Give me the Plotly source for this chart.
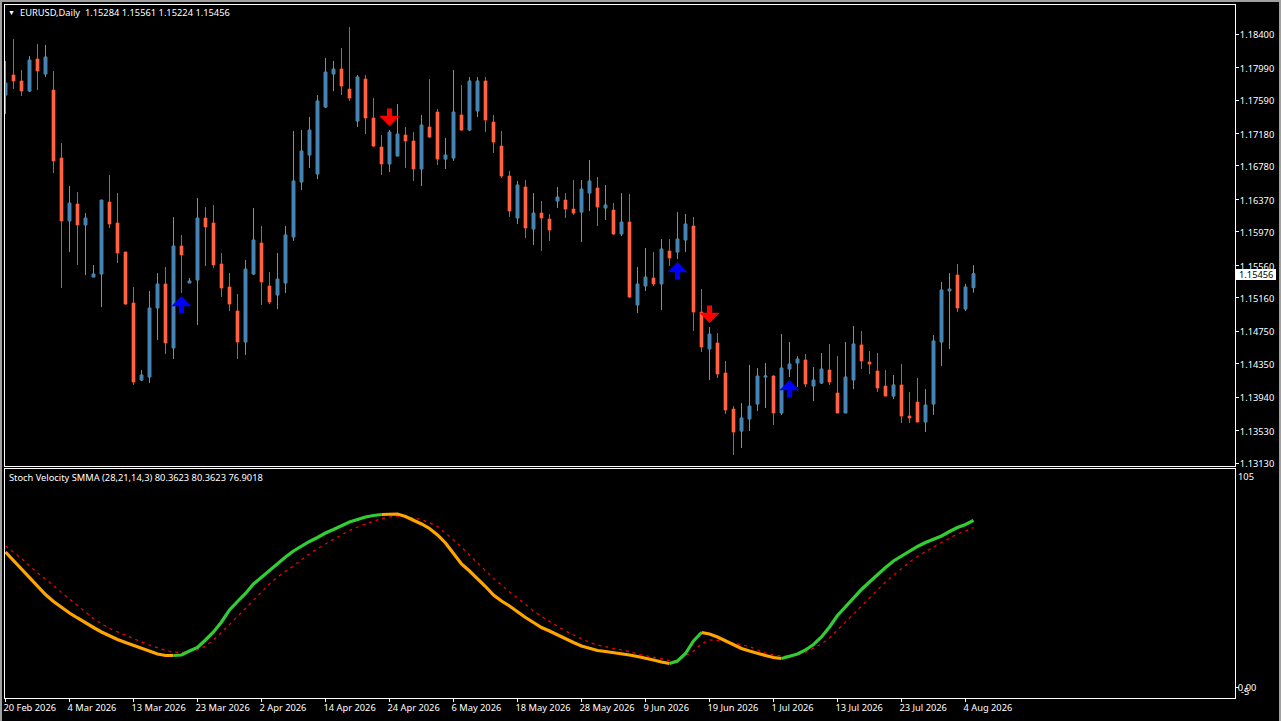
import pandas as pd
import plotly.graph_objects as go

W, H = 1281, 721
FONT = "Noto Sans"
FS = 9.3

dates = [d.strftime("%Y-%m-%d") for d in pd.bdate_range("2026-02-20", periods=122)]

opens = [1.17651,1.17897,1.17823,1.17700,1.18093,1.17909,1.17712,1.16877,1.16104,1.16312,
1.16055,1.15415,1.15452,1.16336,1.16079,1.15722,1.15096,1.14150,1.14187,1.15035,
1.15330,1.14544,1.15796,1.15342,1.15379,1.16140,1.16079,1.15575,1.15293,1.14998,
1.14617,1.15452,1.15833,1.15305,1.15195,1.15342,1.15907,1.16582,1.16914,1.16681,
1.17504,1.17909,1.17970,1.17724,1.17332,1.17847,1.17369,1.17012,1.16804,1.16901,
1.17160,1.17086,1.16742,1.17258,1.17442,1.16864,1.16877,1.17406,1.17221,1.17455,
1.17823,1.17319,1.17024,1.16656,1.16140,1.16521,1.16005,1.16201,1.16127,1.16349,
1.16361,1.16250,1.16213,1.16447,1.16509,1.16263,1.16238,1.15944,1.16091,1.15072,
1.15305,1.15403,1.15330,1.15735,1.15722,1.15870,1.16042,1.14985,1.14531,1.14605,
1.14236,1.13793,1.13524,1.13671,1.13855,1.14187,1.14199,1.13745,1.14285,1.14359,
1.14396,1.14076,1.14113,1.14273,1.13990,1.13745,1.14150,1.14581,1.14371,1.14261,
1.14076,1.13953,1.14089,1.13708,1.13879,1.13634,1.13855,1.14617,1.15244,1.15440,
1.15022,1.15284]

highs = [1.18069,1.18338,1.17958,1.18130,1.18278,1.18266,1.17946,1.17061,1.16533,1.16459,
1.16201,1.15563,1.16361,1.16669,1.16447,1.15722,1.15293,1.14273,1.15244,1.15464,
1.15538,1.16152,1.15932,1.15403,1.16386,1.16275,1.16300,1.15710,1.15464,1.15207,
1.15624,1.16263,1.16042,1.15476,1.15710,1.16042,1.17209,1.17221,1.17381,1.17651,
1.18106,1.18069,1.18229,1.18486,1.17897,1.17897,1.17614,1.17160,1.17221,1.17541,
1.17258,1.17196,1.17406,1.17847,1.17479,1.17123,1.17958,1.17774,1.17872,1.17872,
1.17872,1.17406,1.17209,1.16718,1.16595,1.16607,1.16447,1.16349,1.16189,1.16521,
1.16447,1.16607,1.16607,1.16853,1.16644,1.16546,1.16324,1.16447,1.16435,1.15538,
1.15772,1.15722,1.15882,1.15882,1.16213,1.16189,1.16152,1.15268,1.14801,1.14727,
1.14384,1.13830,1.13867,1.14335,1.14298,1.14359,1.14212,1.14715,1.14617,1.14445,
1.14470,1.14310,1.14482,1.14593,1.14445,1.14617,1.14813,1.14752,1.14507,1.14482,
1.14273,1.14212,1.14347,1.14002,1.14175,1.14039,1.14703,1.15354,1.15464,1.15575,
1.15330,1.15561]

lows = [1.17418,1.17724,1.17638,1.17687,1.17712,1.17872,1.16693,1.15281,1.15722,1.15563,
1.15440,1.15415,1.15047,1.16018,1.15587,1.15072,1.14089,1.14138,1.14113,1.14642,
1.14470,1.14408,1.15219,1.15342,1.14826,1.15550,1.15526,1.15170,1.14998,1.14408,
1.14458,1.15440,1.15072,1.15084,1.15022,1.15219,1.15858,1.16484,1.16755,1.16619,
1.17492,1.17700,1.17651,1.17578,1.17258,1.17172,1.17012,1.16669,1.16705,1.16901,
1.16755,1.16595,1.16533,1.17123,1.16792,1.16742,1.16841,1.17209,1.17209,1.17381,
1.17196,1.16938,1.16632,1.16152,1.16067,1.15895,1.15809,1.15735,1.15858,1.16263,
1.16140,1.16177,1.15845,1.16226,1.16042,1.16116,1.15932,1.15919,1.15158,1.14973,
1.15244,1.15305,1.15010,1.15550,1.15636,1.15722,1.14752,1.14494,1.14150,1.14175,
1.13733,1.13229,1.13315,1.13524,1.13770,1.13806,1.13598,1.13721,1.14187,1.14064,
1.14064,1.13892,1.14101,1.14089,1.13745,1.13745,1.14039,1.14285,1.14224,1.14002,
1.13953,1.13916,1.13622,1.13622,1.13634,1.13511,1.13721,1.14322,1.14531,1.14985,
1.14998,1.15224]

closes = [1.17798,1.17823,1.17700,1.18081,1.17946,1.18118,1.16841,1.16104,1.16324,1.16055,
1.16140,1.15452,1.16361,1.16067,1.15710,1.15084,1.14125,1.14212,1.15035,1.15330,
1.14605,1.15796,1.15686,1.15367,1.16140,1.16030,1.15563,1.15281,1.15084,1.14617,
1.15513,1.15870,1.15354,1.15108,1.15390,1.15932,1.16595,1.16963,1.17221,1.17578,
1.17933,1.17970,1.17761,1.17614,1.17872,1.17369,1.17024,1.16804,1.17196,1.17172,
1.17086,1.16742,1.17283,1.17135,1.16864,1.16914,1.17442,1.17221,1.17823,1.17823,
1.17344,1.17073,1.16656,1.16226,1.16546,1.16018,1.16201,1.16140,1.15993,1.16398,
1.16250,1.16201,1.16496,1.16595,1.16275,1.16300,1.15944,1.16091,1.15170,1.15330,
1.15415,1.15330,1.15759,1.15649,1.15882,1.16067,1.14985,1.14556,1.14715,1.14224,
1.13782,1.13511,1.13684,1.13830,1.14199,1.14199,1.13745,1.14298,1.14347,1.14408,
1.14101,1.14150,1.14285,1.14125,1.13745,1.14187,1.14593,1.14384,1.14347,1.14052,
1.13953,1.14089,1.13708,1.13684,1.13634,1.13843,1.14630,1.15256,1.15268,1.15035,
1.15293,1.15456]

stoch = [65.14,61.05,56.97,52.65,48.56,44.72,41.36,38.48,35.83,33.43,
31.03,28.87,26.71,24.79,23.11,21.66,20.22,18.78,17.34,16.14,
15.42,15.42,15.66,17.58,19.26,22.87,26.71,31.51,37.28,41.36,
45.20,49.77,53.13,56.25,59.37,62.74,65.62,68.02,70.18,72.10,
74.26,75.95,77.87,79.55,80.75,81.95,82.67,83.15,83.39,83.39,
82.19,80.51,78.59,76.43,73.30,69.46,64.42,59.37,56.01,52.41,
48.56,44.48,41.60,39.20,36.32,33.67,31.27,28.87,27.19,25.27,
23.35,21.66,19.98,18.78,17.82,17.34,16.86,16.38,15.66,14.94,
14.22,13.26,12.30,11.58,12.78,16.38,22.39,26.47,25.75,24.31,
22.39,20.46,18.78,17.58,16.38,15.42,14.46,13.98,14.94,16.14,
18.06,20.70,24.31,29.11,34.63,38.96,43.04,47.12,50.73,54.33,
57.69,60.81,63.22,65.62,67.78,69.70,71.14,72.82,74.98,76.91,
78.35,80.36]

signal = [68.02,64.90,62.01,58.41,55.05,52.17,48.80,45.68,42.56,39.20,
36.32,33.19,30.55,28.39,26.71,25.03,23.35,21.90,20.46,19.02,
17.82,17.10,16.86,17.34,18.06,19.98,22.87,26.47,30.55,34.15,
38.00,42.08,45.92,49.77,53.13,55.77,58.41,61.29,64.18,66.82,
68.98,71.14,73.54,75.46,77.15,78.59,80.03,81.23,81.95,82.43,
82.19,81.47,80.75,79.07,77.39,74.26,70.90,67.54,63.70,59.85,
56.25,52.41,49.29,45.92,43.04,39.92,36.80,34.15,31.75,29.35,
27.19,25.27,23.35,21.66,20.46,19.50,18.78,18.06,17.34,16.14,
15.42,14.46,13.74,13.02,13.02,15.18,17.58,20.94,22.87,22.63,
22.14,21.42,20.46,19.74,18.06,16.62,15.66,15.18,15.18,15.90,
16.86,19.02,20.94,23.83,27.67,31.03,34.87,38.72,42.80,46.88,
50.73,54.09,57.21,60.33,62.98,65.38,67.54,69.70,71.86,73.78,
75.23,76.90]

# bar index at which the oscillator line changes colour (orange first)
turns = [0, 21, 47, 83, 87, 97, 121]

price_ticks = [1.18400,1.17990,1.17590,1.17180,1.16780,1.16370,1.15970,1.15560,1.15160,
               1.14750,1.14350,1.13940,1.13530,1.13130]
date_labels = ["20 Feb 2026","4 Mar 2026","13 Mar 2026","23 Mar 2026","2 Apr 2026","14 Apr 2026",
               "24 Apr 2026","6 May 2026","18 May 2026","28 May 2026","9 Jun 2026","19 Jun 2026",
               "1 Jul 2026","13 Jul 2026","23 Jul 2026","4 Aug 2026"]
date_ticks = dates[::8]

up_arrow_bars = [22, 84, 98]
up_arrow_prices = [1.15182, 1.15599, 1.14150]
down_arrow_bars = [48, 88]
down_arrow_prices = [1.17270, 1.14850]

last_price = 1.15456
price_title = "EURUSD,Daily  1.15284 1.15561 1.15224 1.15456"
osc_title = "Stoch Velocity SMMA (28,21,14,3) 80.3623 80.3623 76.9018"

fig = go.Figure()
# wicks and body outlines
fig.add_trace(go.Candlestick(
    x=dates, open=opens, high=highs, low=lows, close=closes,
    xaxis="x", yaxis="y", whiskerwidth=0, hoverinfo="skip", showlegend=False,
    increasing=dict(line=dict(color="#5F9EA0", width=1), fillcolor="#4682B4"),
    decreasing=dict(line=dict(color="#FF4500", width=1), fillcolor="#FF6347"),
))
# body fill drawn again on top so the small bodies keep their fill colour
fig.add_trace(go.Candlestick(
    x=dates, open=opens, high=highs, low=lows, close=closes,
    xaxis="x", yaxis="y", whiskerwidth=0, hoverinfo="skip", showlegend=False,
    increasing=dict(line=dict(color="#4682B4", width=0), fillcolor="#4682B4"),
    decreasing=dict(line=dict(color="#FF6347", width=0), fillcolor="#FF6347"),
))

fig.add_trace(go.Scatter(
    x=dates, y=signal, xaxis="x2", yaxis="y2", mode="lines", showlegend=False, hoverinfo="skip",
    line=dict(color="#FF0000", width=1.2, dash="3px,4px"),
))
for k in range(len(turns) - 1):
    a, b = turns[k], turns[k + 1]
    fig.add_trace(go.Scatter(
        x=dates[a:b + 1], y=stoch[a:b + 1], xaxis="x2", yaxis="y2", mode="lines",
        showlegend=False, hoverinfo="skip",
        line=dict(color="#FFA500" if k % 2 == 0 else "#32CD32", width=3.2),
    ))

notes = []
for bars, prices, color, tail in ((up_arrow_bars, up_arrow_prices, "#0000FF", 19),
                                  (down_arrow_bars, down_arrow_prices, "#FF0000", -19)):
    for b, p in zip(bars, prices):
        notes.append(dict(x=dates[b], y=p, xref="x", yref="y", text="", showarrow=True,
                          arrowhead=1, arrowsize=0.68, arrowwidth=5, arrowcolor=color,
                          ax=0, ay=tail, standoff=0, startstandoff=0))

def label(px, py, text, size=FS, color="#FFFFFF", **kw):
    return dict(x=px / W, y=1 - py / H, xref="paper", yref="paper", text=text, showarrow=False,
                xanchor=kw.pop("xanchor", "left"), yanchor="middle",
                font=dict(family=FONT, size=size, color=color), **kw)

notes.append(label(11, 12.5, "▼", size=7, xanchor="center"))
notes.append(label(18, 13, price_title))
notes.append(label(7, 477, osc_title))
notes.append(label(1236, 476, "105"))
notes.append(label(1239, 691, "-5"))
notes.append(label(1237, 274.5, f"{last_price:.5f}", color="#000000"))

shapes = [
    dict(type="rect", xref="paper", yref="paper", x0=1235 / W, x1=1276 / W,
         y0=1 - 280 / H, y1=1 - 269 / H, fillcolor="#FFFFFF", line=dict(width=0), layer="above"),
    dict(type="rect", xref="paper", yref="paper", x0=0, x1=2 / W, y0=0, y1=1,
         fillcolor="#A0A0A0", line=dict(width=0)),
    dict(type="rect", xref="paper", yref="paper", x0=0, x1=1, y0=1 - 2 / H, y1=1,
         fillcolor="#A0A0A0", line=dict(width=0)),
    dict(type="rect", xref="paper", yref="paper", x0=1279 / W, x1=1, y0=0, y1=1,
         fillcolor="#A0A0A0", line=dict(width=0)),
]

n_span = (1235 - 5) / 8
x_range = [-0.0625, n_span - 0.0625]
axis_common = dict(showgrid=False, zeroline=False, showline=True, linecolor="#FFFFFF", linewidth=1,
                   mirror=True, color="#FFFFFF", automargin=False)

fig.update_layout(
    width=W, height=H, autosize=False,
    paper_bgcolor="#000000", plot_bgcolor="#000000",
    margin=dict(l=0, r=0, t=0, b=0, pad=0, autoexpand=False),
    showlegend=False, hovermode=False, boxgap=0.5, boxmode="overlay",
    font=dict(family=FONT, size=FS, color="#FFFFFF"),
    annotations=notes, shapes=shapes,
    xaxis=dict(axis_common, type="category", categoryorder="array", categoryarray=dates,
               domain=[5 / W, 1235 / W], range=x_range, anchor="y",
               showticklabels=False, ticks="", rangeslider=dict(visible=False), fixedrange=True),
    xaxis2=dict(axis_common, type="category", categoryorder="array", categoryarray=dates,
                domain=[5 / W, 1235 / W], range=x_range, anchor="y2",
                tickmode="array", tickvals=date_ticks, ticktext=date_labels,
                ticks="outside", ticklen=3, tickcolor="#FFFFFF", tickwidth=1,
                ticklabelposition="outside right", tickangle=0, ticklabelshift=-3, ticklabelstandoff=1,
                tickfont=dict(family=FONT, size=FS, color="#FFFFFF"), fixedrange=True),
    yaxis=dict(axis_common, domain=[1 - 466 / H, 1 - 5 / H], range=[1.13094, 1.18757], anchor="x",
               side="right", tickmode="array", tickvals=price_ticks,
               ticktext=[f"{v:.5f}" for v in price_ticks],
               ticks="outside", ticklen=3, tickcolor="#FFFFFF", tickwidth=1,
               ticklabelstandoff=-1, ticklabelshift=1,
               tickfont=dict(family=FONT, size=FS, color="#FFFFFF"), fixedrange=True),
    yaxis2=dict(axis_common, domain=[1 - 698 / H, 1 - 469 / H], range=[-5, 105], anchor="x2",
                side="right", tickmode="array", tickvals=[0], ticktext=["0.00"],
                ticks="outside", ticklen=3, tickcolor="#FFFFFF", tickwidth=1,
                ticklabelstandoff=-3,
                tickfont=dict(family=FONT, size=FS, color="#FFFFFF"), fixedrange=True),
)

fig.write_html("out.html", config=dict(displayModeBar=False),
               post_script="document.body.style.margin='0';document.body.style.overflow='hidden';document.body.style.background='#000';")
